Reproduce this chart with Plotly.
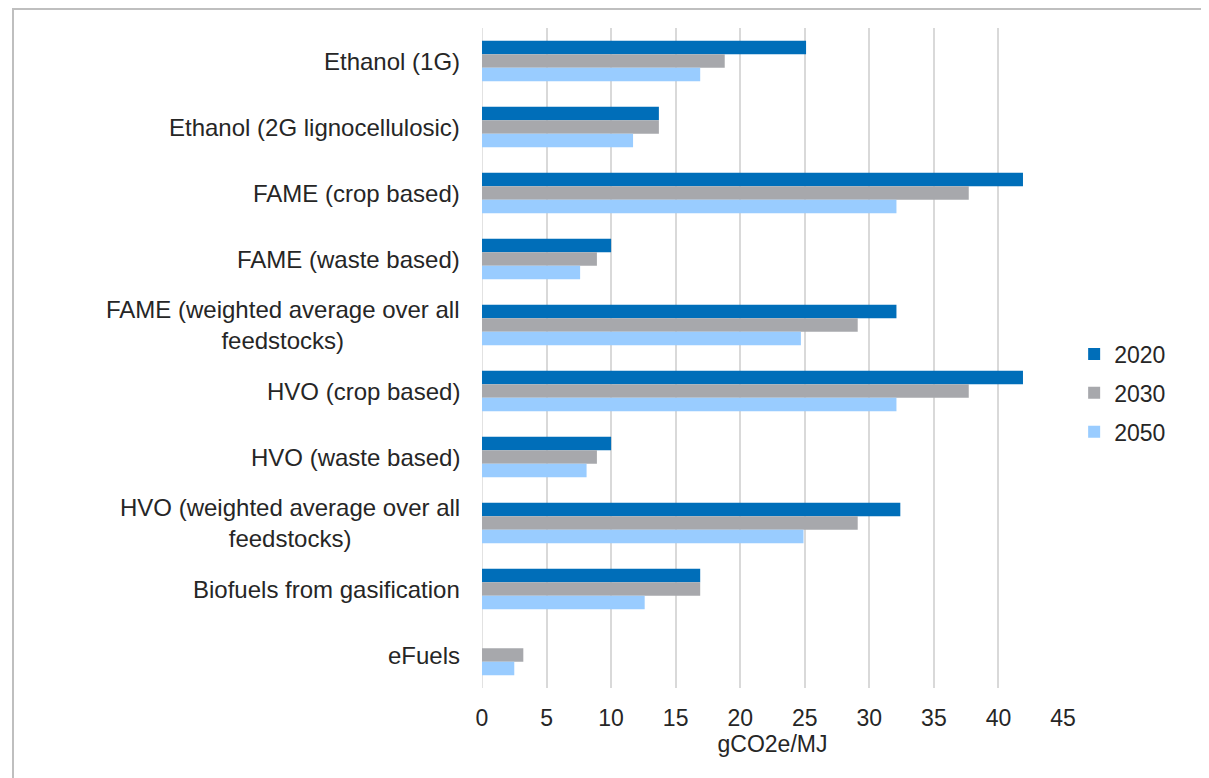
import plotly.graph_objects as go

categories = [
    "Ethanol (1G)",
    "Ethanol (2G lignocellulosic)",
    "FAME (crop based)",
    "FAME (waste based)",
    "FAME (weighted average over all<br>feedstocks)",
    "HVO (crop based)",
    "HVO (waste based)",
    "HVO (weighted average over all<br>feedstocks)",
    "Biofuels from gasification",
    "eFuels",
]
v2020 = [25.1, 13.7, 41.9, 10.0, 32.1, 41.9, 10.0, 32.4, 16.9, 0.0]
v2030 = [18.8, 13.7, 37.7, 8.9, 29.1, 37.7, 8.9, 29.1, 16.9, 3.2]
v2050 = [16.9, 11.7, 32.1, 7.6, 24.7, 32.1, 8.1, 24.9, 12.6, 2.5]
series_names = ["2020", "2030", "2050"]
colors = ["#006EB9", "#A7A8AC", "#99CCFF"]
x_ticks = [0, 5, 10, 15, 20, 25, 30, 35, 40, 45]

font_family = "Liberation Sans, Arial, sans-serif"
text_color = "#262626"

fig = go.Figure()
for name, vals, col in zip(series_names, [v2020, v2030, v2050], colors):
    fig.add_trace(go.Bar(
        y=categories, x=vals, name=name, orientation="h", legendgroup=name,
        marker=dict(color=col, line=dict(width=0)),
    ))

# page is offset by the 8px body margin
W, H = 1201, 770
ml, mr, mt, mb = 474, 146, 20, 90
pw = W - ml - mr
ph = H - mt - mb

fig.update_layout(
    width=W, height=H,
    margin=dict(l=ml, r=mr, t=mt, b=mb, pad=0),
    barmode="group", bargap=0.39, bargroupgap=0,
    plot_bgcolor="white", paper_bgcolor="white",
    font=dict(family=font_family, size=23, color=text_color),
    legend=dict(
        x=1.045 - 15 / pw, y=0.5 - 35 / ph, xanchor="left", yanchor="middle",
        font=dict(size=23, color=text_color), traceorder="grouped",
        tracegroupgap=6, itemwidth=30, bgcolor="rgba(0,0,0,0)",
    ),
    xaxis=dict(
        range=[0, 45], tickvals=x_ticks, showgrid=True,
        gridcolor="#D9D9D9", gridwidth=1.5, zeroline=False,
        showline=False, ticks="outside", ticklen=9, tickcolor="rgba(0,0,0,0)",
        tickfont=dict(size=23, color=text_color),
        title=dict(text="gCO2e/MJ", font=dict(size=23, color=text_color), standoff=6),
    ),
    yaxis=dict(
        autorange="reversed", showticklabels=False, showgrid=False,
        zeroline=False, showline=False, ticks="",
    ),
)

# y-axis category labels as annotations (centered multi-line, right-anchored)
for c in categories:
    fig.add_annotation(
        x=-22 / pw, xref="paper", y=c, yref="y",
        text=c, showarrow=False, xanchor="right", yanchor="middle",
        align="center", font=dict(size=24, color=text_color),
        xshift=2,
    )

# chart outer border
fig.add_shape(
    type="rect", xref="paper", yref="paper",
    x0=(5 - ml) / pw, x1=(W + 20 - ml) / pw,
    y0=(mt + ph - (H + 20)) / ph, y1=(mt + ph - 1) / ph,
    line=dict(color="#BFBFBF", width=2), layer="below",
)
# vertical axis line at zero
fig.add_shape(
    type="line", xref="x", yref="paper", x0=0, x1=0, y0=0, y1=1,
    line=dict(color="#D9D9D9", width=1.5), layer="below",
)

fig.write_html("out.html")
